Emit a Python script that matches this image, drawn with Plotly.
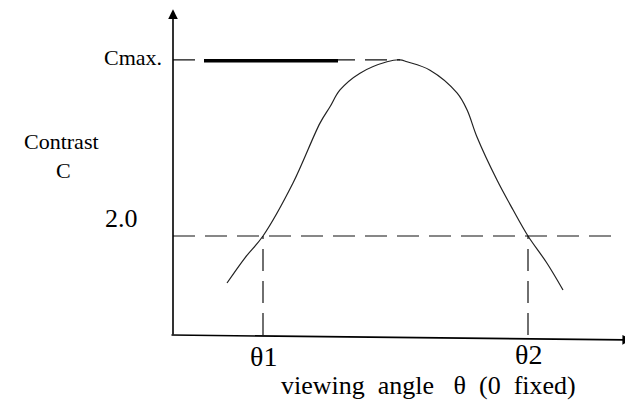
import plotly.graph_objects as go

# contrast curve (theta in arbitrary units, C in contrast units)
theta = [0.54, 0.72, 0.90, 1.20, 1.47, 1.57, 1.67, 1.87, 2.14, 2.27, 2.34, 2.57, 2.84, 2.94, 3.04, 3.24, 3.40, 3.55, 3.74, 3.90]
contrast = [1.05, 1.56, 2.00, 3.07, 4.28, 4.61, 4.95, 5.29, 5.52, 5.56, 5.52, 5.35, 4.89, 4.55, 4.00, 3.13, 2.53, 2.00, 1.45, 0.91]

theta1 = 0.90
theta2 = 3.55
theta_peak = 2.27
c_max = 5.56
c_limit = 2.0

font = "Liberation Serif"
ink = "#111"

fig = go.Figure()
fig.add_trace(go.Scatter(x=theta, y=contrast, mode="lines", line=dict(color="#222", width=1.2, shape="spline"),
                         hoverinfo="skip", showlegend=False))

dash = "22px,10px"
# guide lines
fig.add_shape(type="line", x0=0, x1=theta_peak, y0=c_max, y1=c_max, line=dict(color=ink, width=1.2, dash=dash))
fig.add_shape(type="line", x0=0.31, x1=1.65, y0=c_max - 0.02, y1=c_max - 0.02, line=dict(color="black", width=3.5))
fig.add_shape(type="line", x0=0, x1=4.42, y0=c_limit, y1=c_limit, line=dict(color=ink, width=1.2, dash=dash))
fig.add_shape(type="line", x0=theta1, x1=theta1, y0=0, y1=c_limit, line=dict(color=ink, width=1.2, dash=dash))
fig.add_shape(type="line", x0=theta2, x1=theta2, y0=0, y1=c_limit, line=dict(color=ink, width=1.2, dash=dash))

# axes with arrows
fig.add_annotation(x=0.0, y=6.58, ax=0.0, ay=-0.02, xref="x", yref="y", axref="x", ayref="y",
                   showarrow=True, arrowhead=2, arrowsize=1.2, arrowwidth=1.6, arrowcolor="black", text="")
fig.add_annotation(x=4.59, y=-0.10, ax=-0.03, ay=0.0, xref="x", yref="y", axref="x", ayref="y",
                   showarrow=True, arrowhead=2, arrowsize=1.2, arrowwidth=1.6, arrowcolor="black", text="")

nb = "\u00a0"
labels = [
    ("Cmax.", -0.40, 5.60, 22),
    ("Contrast", -1.12, 3.90, 22),
    ("C", -1.10, 3.33, 22),
    ("2.0", -0.52, 2.36, 26),
    ("θ1", theta1, -0.44, 28),
    ("θ2", theta2, -0.40, 28),
    ("viewing" + nb * 2 + "angle" + nb * 3 + "θ" + nb * 2 + "(0" + nb * 2 + "fixed)", 2.55, -1.03, 26),
]
for txt, x, y, size in labels:
    fig.add_annotation(x=x, y=y, text=txt, showarrow=False, xref="x", yref="y",
                       font=dict(family=font, size=size, color="black"))

# the page body has an 8px margin, so the figure covers screen pixels 8..633 x 8..410
fig.update_xaxes(range=[-1.65, 4.60], visible=False)
fig.update_yaxes(range=[-1.515, 6.606], visible=False)
fig.update_layout(width=625, height=402, margin=dict(l=0, r=0, t=0, b=0),
                  plot_bgcolor="white", paper_bgcolor="white")

fig.write_html("out.html")
